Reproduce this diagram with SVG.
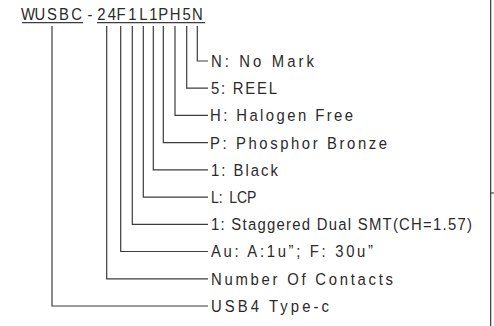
<svg xmlns="http://www.w3.org/2000/svg" width="494" height="326" viewBox="0 0 494 326">
<style>
.t{font-family:"Liberation Sans",Arial,sans-serif;font-size:16.5px;fill:#2a2a2a}
.c{fill:none;stroke:#3c3c3c;stroke-width:1.2}
</style>
<rect x="0" y="0" width="494" height="326" fill="#ffffff"/>
<g id="title">
<text class="t" transform="translate(0 20.3) scale(0.9 1)" text-anchor="middle" x="31.11 44.44 57.78 71.11 85 100 112.78 124.44 134.44 147 159.22 170.33 181.44 194.44 207.44 219.22" y="0">WUSBC-24F1L1PH5N</text>
<path class="c" d="M22 22.7H83M97 22.7H205"/>
</g>
<g id="connectors">
<path class="c" d="M197.3 26V61H208"/>
<path class="c" d="M186.7 26V88.2H208"/>
<path class="c" d="M175 26V115.4H208"/>
<path class="c" d="M163.3 26V142.7H208"/>
<path class="c" d="M153.3 26V169.9H208"/>
<path class="c" d="M143.3 26V197.1H208"/>
<path class="c" d="M132.3 26V224.3H208"/>
<path class="c" d="M120.7 26V251.5H208"/>
<path class="c" d="M106.7 26V278.8H208"/>
<path class="c" d="M52 26V306H208"/>
</g>
<g id="n-mark"><text class="t" transform="translate(211 66.9) scale(0.9 1)" textLength="114.4" lengthAdjust="spacing">N: No Mark</text></g>
<g id="n-reel"><text class="t" transform="translate(211 94.1) scale(0.9 1)" textLength="73.3" lengthAdjust="spacing">5: REEL</text></g>
<g id="n-halogen"><text class="t" transform="translate(210 121.3) scale(0.9 1)" textLength="158.9" lengthAdjust="spacing">H: Halogen Free</text></g>
<g id="n-phosphor"><text class="t" transform="translate(210 148.6) scale(0.9 1)" textLength="196.7" lengthAdjust="spacing">P: Phosphor Bronze</text></g>
<g id="n-black"><text class="t" transform="translate(211 175.8) scale(0.9 1)" textLength="74.4" lengthAdjust="spacing">1: Black</text></g>
<g id="n-lcp"><text class="t" transform="translate(211 203) scale(0.85 1)">L: <tspan dx="3">LCP</tspan></text></g>
<g id="n-staggered"><text class="t" transform="translate(211 230.2) scale(0.9 1)" textLength="290" lengthAdjust="spacing">1: Staggered Dual SMT(CH=1.57)</text></g>
<g id="n-au"><text class="t" transform="translate(211 257.4) scale(0.9 1)" textLength="180" lengthAdjust="spacing">Au: A:1u”; F: 30u”</text></g>
<g id="n-contacts"><text class="t" transform="translate(211 284.7) scale(0.9 1)" textLength="202.2" lengthAdjust="spacing">Number Of Contacts</text></g>
<g id="n-usb4"><text class="t" transform="translate(211 311.9) scale(0.9 1)" textLength="131.1" lengthAdjust="spacing">USB4 Type-c</text></g>
<g id="border">
<path d="M490.7 0V326M490.7 193H494" fill="none" stroke="#262626" stroke-width="1.1"/>
</g>
</svg>
